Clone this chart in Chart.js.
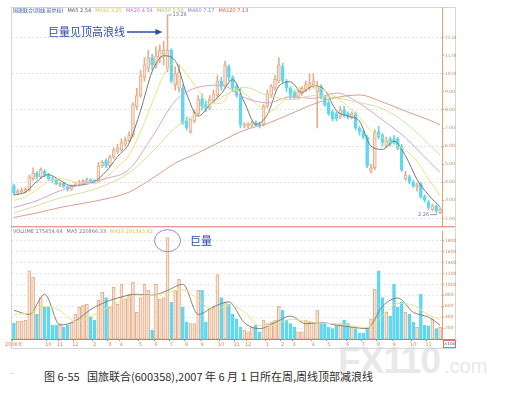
<!DOCTYPE html>
<html>
<head>
<meta charset="utf-8">
<script src="https://cdn.jsdelivr.net/npm/chart.js@4.4.1/dist/chart.umd.min.js"></script>
<style>
  body { margin: 0; background: #fff; }
  #wrap { position: relative; width: 512px; height: 401px; overflow: hidden; }
  #frame { position: absolute; left: 11px; top: 7px; width: 443px; height: 340px; border: 1px solid #d6d6d6; }
  #price { position: absolute; left: 0; top: 0; }
  #vol { position: absolute; left: 0; top: 228px; }
  .wm { position: absolute; color: #e8e8e8; font-family: "Liberation Sans", sans-serif; font-weight: bold; }
  #caption { position: absolute; left: 44px; top: 368px; font: 11px "Noto Sans CJK SC", sans-serif; color: #2e2e2e; white-space: pre; }
  #unit { position: absolute; left: 443px; top: 340px; width: 11px; height: 6px; border: 1px solid #e07060; font: 4px "DejaVu Sans"; color: #3050b0; text-align: center; line-height: 6px; }
</style>
</head>
<body>
<div id="wrap">
  <div class="wm" style="left:338px;top:340px;font-size:37px;letter-spacing:-1px">FX110</div>
  <div class="wm" style="left:444px;top:355px;font-size:20px;font-weight:normal">.com</div>
  <div id="frame"></div>
  <canvas id="price" width="512" height="230"></canvas>
  <canvas id="vol" width="512" height="122"></canvas>
  <div id="unit">×100</div>
  <div style="position:absolute;left:11px;top:368px;font:9px sans-serif;color:#999">·</div>
  <div id="caption">图 6-55   国旅联合(600358),2007 年 6 月 1 日所在周,周线顶部减浪线</div>
</div>
<script>
// 周K线数据
const opens  = [3.8,3.4,3.45,3.5,3.6,4.2,4.5,4.3,4.6,4.4,4.2,4.1,3.85,3.95,3.75,3.6,3.8,3.9,3.9,4.0,
  4.15,4.1,4.05,4.9,5.2,4.9,5.4,5.7,5.8,6.1,6.3,6.6,8.2,8.8,9.8,10.3,10.9,10.5,10.9,11.1,
  10.3,11.3,9.4,9.2,9.2,7.4,6.8,7.4,7.8,8.6,8.3,8.1,8.5,8.8,9.6,9.3,10.4,9.8,9.3,8.8,
  7.1,7.1,7.15,7.3,7.2,7.2,8.2,8.8,9.2,9.6,10.4,9.6,9.2,9.0,8.7,8.9,9.1,9.2,9.4,9.0,
  9.3,8.7,8.4,7.9,7.8,7.6,8.0,7.8,7.6,7.8,7.0,6.8,6.5,4.6,4.8,6.8,6.6,6.0,6.4,6.4,
  6.4,6.0,4.2,4.3,4.0,3.75,3.9,3.2,2.9,2.5,2.7,2.3];
const highs  = [3.9,3.6,3.7,3.7,4.4,4.8,4.6,4.8,4.7,4.5,4.3,4.2,4.0,4.0,3.8,3.85,4.0,4.1,4.15,4.25,
  4.2,4.15,5.1,5.2,5.3,5.5,5.9,6.1,6.4,6.5,6.8,8.4,9.2,10.2,10.9,11.3,11.1,11.5,11.6,11.8,
  13.26,11.4,10.4,10.5,9.4,7.6,7.5,8.0,8.8,8.9,8.5,8.8,9.1,9.9,9.8,10.7,10.5,9.9,9.4,9.2,
  7.3,7.3,7.4,7.4,7.3,8.3,9.1,9.4,9.9,10.9,10.6,9.7,9.3,9.1,9.1,9.3,9.6,10.0,10.0,9.6,
  9.4,8.8,8.5,8.0,7.9,8.2,8.2,7.9,7.9,7.9,7.1,6.9,6.6,5.0,6.9,7.1,6.7,6.5,6.5,6.6,
  6.5,6.1,4.6,4.4,4.1,3.95,4.0,3.3,3.0,2.8,2.75,2.6];
const lows   = [3.3,3.3,3.4,3.4,3.5,4.1,4.2,4.2,4.3,4.1,4.0,3.85,3.75,3.7,3.5,3.55,3.75,3.8,3.85,3.95,
  4.0,3.95,4.0,4.8,4.8,4.85,5.3,5.6,5.7,6.0,6.2,6.5,8.0,8.7,9.6,10.1,10.2,10.3,10.6,10.5,
  10.1,9.5,9.1,9.0,7.2,6.9,6.7,7.3,7.7,8.0,7.9,8.0,8.4,8.7,9.1,9.2,9.6,9.0,8.7,7.0,
  7.0,7.0,7.05,7.1,7.0,7.1,8.1,8.7,9.1,9.5,9.5,9.0,8.6,8.6,8.6,8.8,9.0,9.1,9.2,7.0,
  8.6,8.2,7.7,7.4,7.4,7.5,7.6,7.5,7.5,6.9,6.6,6.4,4.8,4.5,4.7,6.4,6.0,5.9,6.0,6.1,
  5.8,4.6,4.1,3.9,3.7,3.5,3.1,2.9,2.5,2.4,2.3,2.26];
const closes = [3.4,3.5,3.55,3.6,4.3,4.5,4.3,4.7,4.4,4.2,4.1,3.9,3.95,3.75,3.6,3.8,3.9,3.95,4.05,4.15,
  4.05,4.0,4.9,5.1,4.9,5.4,5.8,5.9,6.2,6.3,6.6,8.3,8.8,9.9,10.5,10.9,10.5,11.0,11.3,11.3,
  11.3,9.6,10.0,10.1,7.3,7.0,7.5,7.9,8.6,8.2,8.1,8.6,8.9,9.6,9.3,10.5,9.8,9.2,8.8,7.2,
  7.2,7.2,7.3,7.15,7.1,8.2,8.9,9.3,9.7,10.5,9.6,9.2,8.8,8.7,9.0,9.2,9.4,9.5,9.6,9.3,
  8.7,8.3,7.8,7.5,7.5,8.0,7.7,7.6,7.8,7.0,6.8,6.5,4.9,4.8,6.7,6.5,6.2,6.3,6.1,6.2,
  5.9,4.7,4.4,4.0,3.8,3.85,3.2,3.0,2.6,2.7,2.4,2.5];
const volumes = [296,330,330,340,1250,1130,455,760,580,580,255,255,280,220,255,310,455,580,620,635,
  400,345,710,855,760,580,945,635,1000,730,820,1040,490,760,1000,890,160,1000,730,760,
  1855,670,890,1090,580,310,280,280,890,890,310,545,580,1180,760,670,635,455,365,220,
  160,130,220,255,130,345,280,310,345,600,525,345,280,220,130,130,345,310,310,525,
  280,280,220,190,255,280,345,280,220,190,115,115,220,370,915,1250,760,490,420,1000,
  580,670,490,455,310,220,820,255,240,370,190,220];

// 均线 (每3周 / 每6周读一个点)
const ma5  = [3.3,3.45,4.05,4.42,4.11,3.8,3.86,4.04,4.59,5.42,6.16,7.98,10.12,11.0,10.74,8.88,7.66,8.28,8.9,
  9.68,8.44,7.21,7.73,9.32,9.56,8.98,9.34,9.08,7.96,7.66,7.38,6.0,5.82,6.26,5.46,4.15,3.29,2.64];
const ma10 = [3.0,3.2,3.6,4.05,4.2,4.07,3.92,3.92,4.28,4.83,5.51,6.81,8.39,9.91,10.65,9.98,9.1,8.37,8.37,
  9.08,8.91,8.37,7.83,8.26,8.85,9.29,9.35,9.05,8.68,8.2,7.6,6.86,6.48,6.1,5.78,5.15,4.17,3.25];
const ma6Idx = [0,6,12,18,24,30,36,42,48,54,60,66,72,78,84,90,96,102,108,111];
const ma20 = [2.6,2.98,3.53,3.91,4.21,4.71,6.51,8.49,9.26,9.37,8.69,8.39,8.73,8.64,8.94,8.37,7.44,6.46,5.17,4.54];
const ma30 = [2.3,2.7,3.14,3.43,3.85,4.51,5.68,7.0,7.85,8.7,9.25,8.82,8.57,8.79,8.67,8.41,8.07,7.29,6.12,5.5];
const ma60 = [2.05,2.3,2.6,2.83,3.08,3.45,4.21,5.05,5.63,6.27,6.88,7.25,7.78,8.32,8.69,8.83,8.44,7.93,7.46,7.17];
const vmaIdx = [0,4,8,12,16,20,24,28,32,36,40,44,48,52,56,60,64,68,72,76,80,84,88,92,96,100,104,108,111];
const vma5  = [527,450,818,255,330,540,680,770,820,800,890,1000,450,590,680,300,190,300,420,280,300,255,218,190,600,750,490,400,255];
const vma10 = [450,480,600,520,320,420,560,700,800,800,850,900,720,520,620,500,240,260,360,330,290,280,240,210,430,650,620,440,360];

// 刻度
const priceTicks = [2,3,4,5,6,7,8,9,10,11,12];
const volTicks = [200,400,600,800,1000,1200,1400,1600,1800];
const monthTickIdx  = [0,9,12,16,21,25,28,33,37,41,45,49,54,58,61,66,70,73,78,82,87,91,95,99,104,108];
const monthTickText = ['2006年','10','11','12','2','3','4','5','6','7','8','9','10','11','12','1','2','3','4','5','6','7','8','9','10','11'];

const legendTop = [['国旅联合(周线,前复权)', '#3050a0'], ['MA5 2.54', '#555'], ['MA10 3.25', '#d6c640'],
  ['MA20 4.54', '#d070c0'], ['MA30 5.50', '#a8c850'], ['MA60 7.17', '#8080d0'], ['MA120 7.13', '#e06040']];
const legendVol = [['VOLUME 175454.64', '#777'], ['MA5 220866.33', '#777'], ['MA10 291343.62', '#d6c640']];

const peakIdx = 40;
const N = closes.length;
const categories = Array.from({length: N}, (_, i) => {
  const k = monthTickIdx.indexOf(i);
  return k >= 0 ? monthTickText[k] : '';
});
const step3Idx = ma5.map((_, k) => k * 3);
function sparse(idx, vals) {
  const arr = new Array(N).fill(null);
  idx.forEach((p, k) => { arr[p] = vals[k]; });
  return arr;
}

const UP_FILL = '#f9e2d0', UP_LINE = '#e2ae8c', DOWN = '#62d7ef';
const isUp = closes.map((c, i) => c >= opens[i]);

function lineSet(data, color) {
  return { type: 'line', data: data, borderColor: color, borderWidth: 1, pointRadius: 0,
    spanGaps: true, cubicInterpolationMode: 'monotone', order: 1 };
}

function drawLegend(ctx, items, x, y) {
  ctx.font = '5px "DejaVu Sans", "Noto Sans CJK SC"';
  ctx.textBaseline = 'middle';
  ctx.textAlign = 'left';
  items.forEach(([t, c]) => {
    ctx.fillStyle = c;
    ctx.fillText(t, x, y);
    x += ctx.measureText(t).width + 4;
  });
}

const fixedAxisWidth = s => { s.width = 14; };
const baseOpts = {
  responsive: false,
  animation: false,
  events: [],
  plugins: { legend: { display: false }, tooltip: { enabled: false } }
};

// --- 1. 价格 K 线图 ---
new Chart(document.getElementById('price'), {
  type: 'bar',
  data: {
    labels: categories,
    datasets: [
      { data: lows.map((l, i) => [l, highs[i]]), barThickness: 1, grouped: false, order: 3,
        backgroundColor: isUp.map(u => u ? UP_LINE : DOWN) },
      { data: opens.map((o, i) => [o, closes[i]]), barThickness: 3, grouped: false, order: 2, minBarLength: 1,
        backgroundColor: isUp.map(u => u ? UP_FILL : DOWN),
        borderColor: isUp.map(u => u ? UP_LINE : DOWN), borderWidth: 1, borderSkipped: false },
      lineSet(sparse(ma6Idx, ma60), '#d7a088'),
      lineSet(sparse(ma6Idx, ma30), '#d3e29a'),
      lineSet(sparse(ma6Idx, ma20), '#d9a3cd'),
      lineSet(sparse(step3Idx, ma10), '#ece37e'),
      lineSet(sparse(step3Idx, ma5), '#777777')
    ]
  },
  options: {
    ...baseOpts,
    layout: { padding: { left: 12, right: 56, top: 7, bottom: 2 } },
    scales: {
      x: { display: false },
      y: {
        position: 'right', min: 1.56, max: 13.7,
        afterFit: fixedAxisWidth,
        afterBuildTicks: s => { s.ticks = priceTicks.map(v => ({ value: v })); },
        border: { color: '#e3a274', dash: [2, 2] },
        grid: { color: c => (c.tick && c.tick.value % 2 === 0) ? '#e2e2e2' : 'rgba(0,0,0,0)',
                tickColor: '#e3a274', tickLength: 2 },
        ticks: { font: { size: 4.5, family: 'DejaVu Sans' }, color: '#cf8a5e', padding: 1,
                 callback: v => v.toFixed(2) }
      }
    }
  },
  plugins: [{
    id: 'notes',
    afterDraw(chart) {
      const { ctx, chartArea, scales: { x, y } } = chart;
      ctx.save();
      drawLegend(ctx, legendTop, 13, 10.5);
      // 底部分隔线
      ctx.strokeStyle = '#e27464';
      ctx.lineWidth = 1;
      ctx.beginPath();
      ctx.moveTo(11, chartArea.bottom + 0.5);
      ctx.lineTo(455, chartArea.bottom + 0.5);
      ctx.stroke();
      // 文字标注和箭头
      const px = x.getPixelForValue(peakIdx);
      ctx.font = '11px "Noto Sans CJK SC"';
      ctx.fillStyle = '#2c4ca8';
      ctx.textBaseline = 'middle';
      ctx.fillText('巨量见顶高浪线', 48, 32);
      ctx.strokeStyle = '#2c4ca8';
      ctx.lineWidth = 1.5;
      ctx.beginPath();
      ctx.moveTo(127, 32);
      ctx.lineTo(px - 11, 32);
      ctx.stroke();
      ctx.beginPath();
      ctx.moveTo(px - 5, 32);
      ctx.lineTo(px - 12, 29);
      ctx.lineTo(px - 12, 35);
      ctx.closePath();
      ctx.fill();
      // 最高价 / 最低价
      ctx.font = '5px "DejaVu Sans"';
      ctx.fillStyle = '#6a78a8';
      ctx.strokeStyle = '#6a78a8';
      ctx.lineWidth = 0.8;
      const yh = y.getPixelForValue(Math.max(...highs));
      ctx.beginPath();
      ctx.moveTo(px + 1, yh);
      ctx.lineTo(px + 4, yh);
      ctx.stroke();
      ctx.fillText(Math.max(...highs).toFixed(2), px + 5, yh);
      const lx = x.getPixelForValue(N - 1);
      const yl = y.getPixelForValue(Math.min(...lows));
      ctx.textAlign = 'right';
      ctx.fillText(Math.min(...lows).toFixed(2), lx - 11, yl + 1);
      ctx.beginPath();
      ctx.moveTo(lx - 10, yl + 1);
      ctx.lineTo(lx - 3, yl + 1);
      ctx.stroke();
      ctx.restore();
    }
  }]
});

// --- 2. 成交量图 ---
new Chart(document.getElementById('vol'), {
  type: 'bar',
  data: {
    labels: categories,
    datasets: [
      { data: volumes, barThickness: 3, order: 2,
        backgroundColor: isUp.map(u => u ? UP_FILL : DOWN),
        borderColor: isUp.map(u => u ? UP_LINE : DOWN), borderWidth: 1, borderSkipped: false },
      lineSet(sparse(vmaIdx, vma10), '#ece37e'),
      lineSet(sparse(vmaIdx, vma5), '#808080')
    ]
  },
  options: {
    ...baseOpts,
    layout: { padding: { left: 12, right: 56, top: 1, bottom: 1 } },
    scales: {
      x: {
        afterFit: s => { s.height = 10; },
        border: { color: '#e27464' },
        grid: { drawOnChartArea: false, tickLength: 2,
                color: c => (c.tick && c.tick.label) ? '#e27464' : 'rgba(0,0,0,0)' },
        ticks: { autoSkip: false, maxRotation: 0, padding: 1, color: '#cf8a5e',
                 font: { size: 5, family: 'DejaVu Sans' } }
      },
      y: {
        position: 'right', min: 0, max: 1964,
        afterFit: fixedAxisWidth,
        afterBuildTicks: s => { s.ticks = volTicks.map(v => ({ value: v })); },
        border: { color: '#e3a274', dash: [2, 2] },
        grid: { color: '#e6e6e6', tickColor: '#e3a274', tickLength: 2 },
        ticks: { font: { size: 4.5, family: 'DejaVu Sans' }, color: '#cf8a5e', padding: 1,
                 callback: v => String(v) }
      }
    }
  },
  plugins: [{
    id: 'volNotes',
    afterDraw(chart) {
      const { ctx, chartArea, scales: { x, y } } = chart;
      ctx.save();
      drawLegend(ctx, legendVol, 13, 4);
      ctx.strokeStyle = '#e27464';
      ctx.lineWidth = 1;
      ctx.beginPath();
      ctx.moveTo(11, chartArea.bottom + 0.5);
      ctx.lineTo(455, chartArea.bottom + 0.5);
      ctx.stroke();
      const px = x.getPixelForValue(peakIdx);
      const py = y.getPixelForValue(volumes[peakIdx]);
      ctx.strokeStyle = '#8a8ccc';
      ctx.beginPath();
      ctx.ellipse(px, py + 3, 13, 11, 0, 0, Math.PI * 2);
      ctx.stroke();
      ctx.font = '11px "Noto Sans CJK SC"';
      ctx.fillStyle = '#2c4ca8';
      ctx.textBaseline = 'middle';
      ctx.fillText('巨量', 190, 13);
      ctx.restore();
    }
  }]
});
</script>
</body>
</html>
